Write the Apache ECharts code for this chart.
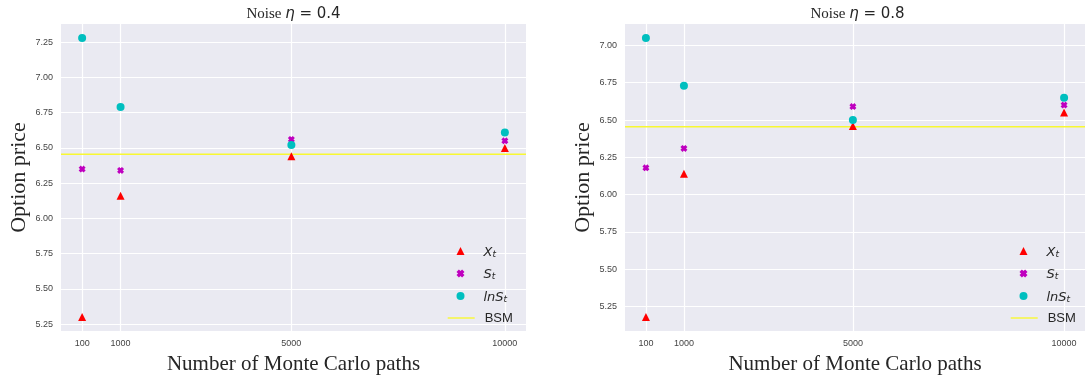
<!DOCTYPE html>
<html>
<head>
<meta charset="utf-8">
<script src="https://cdn.jsdelivr.net/npm/echarts@6/dist/echarts.min.js"></script>
<style>
  html, body { margin: 0; padding: 0; background: #ffffff; }
  #chart { width: 1085px; height: 380px; }
</style>
</head>
<body>
<div id="chart"></div>
<script>
// Number of Monte Carlo paths (x positions)
const paths = [100, 1000, 5000, 10000];
const xTickLabels = ['100', '1000', '5000', '10000'];
const yTickValues = [5.25, 5.50, 5.75, 6.00, 6.25, 6.50, 6.75, 7.00, 7.25];

// Option prices, noise eta = 0.4
const xt04 = [5.30, 6.16, 6.44, 6.50];
const st04 = [6.35, 6.34, 6.56, 6.55];
const lnst04 = [7.28, 6.79, 6.52, 6.61];

// Option prices, noise eta = 0.8
const xt08 = [5.18, 6.14, 6.46, 6.55];
const st08 = [6.18, 6.31, 6.59, 6.60];
const lnst08 = [7.05, 6.73, 6.50, 6.65];

// Black-Scholes-Merton reference price
const bsmPrice = 6.455;

const panelTitles = ['0.4', '0.8'];

// axis limits with a 5% margin around the data
function padded(vals) {
  const lo = Math.min(...vals), hi = Math.max(...vals);
  const m = (hi - lo) * 0.05;
  return [lo - m, hi + m];
}
const xLim = padded(paths);
const yLim04 = padded(xt04.concat(st04, lnst04, [bsmPrice]));
const yLim08 = padded(xt08.concat(st08, lnst08, [bsmPrice]));

const pts = (ys) => paths.map((x, i) => [x, ys[i]]);

// filled "X" marker
const crossPath = 'path://M0,3 L3,0 L5,2 L7,0 L10,3 L8,5 L10,7 L7,10 L5,8 L3,10 L0,7 L2,5 Z';
const colors = { xt: '#ff0000', st: '#bf00bf', lnst: '#00bfbf', bsm: '#f8f832' };
const ink = '#262626';

const gridBase = { top: 24, width: 465, height: 312, show: true,
  backgroundColor: '#eaeaf2', borderWidth: 0, containLabel: false };

function xAxisFor(gi) {
  return {
    type: 'value', gridIndex: gi, min: xLim[0], max: xLim[1],
    axisLine: { show: false }, axisTick: { show: false, customValues: paths },
    axisLabel: { customValues: paths, margin: 8, fontSize: 9, color: '#444',
      fontFamily: 'Liberation Sans, Arial, sans-serif',
      formatter: (v) => xTickLabels[paths.indexOf(v)] ?? '' },
    splitLine: { show: true, lineStyle: { color: '#ffffff', width: 1.2 } },
    name: 'Number of Monte Carlo paths', nameLocation: 'middle', nameGap: 23,
    nameTextStyle: { fontFamily: 'Liberation Serif, Times New Roman, serif', fontSize: 21, color: ink }
  };
}
function yAxisFor(gi, lim) {
  return {
    type: 'value', gridIndex: gi, min: lim[0], max: lim[1],
    axisLine: { show: false }, axisTick: { show: false, customValues: yTickValues },
    axisLabel: { customValues: yTickValues, margin: 8, fontSize: 9, color: '#444',
      fontFamily: 'Liberation Sans, Arial, sans-serif', formatter: (v) => v.toFixed(2) },
    splitLine: { show: true, lineStyle: { color: '#ffffff', width: 1.2 } },
    name: 'Option price', nameLocation: 'middle', nameGap: 31, nameRotate: 90,
    nameTextStyle: { fontFamily: 'Liberation Serif, Times New Roman, serif', fontSize: 22, color: ink }
  };
}

function panelSeries(gi, xt, st, lnst) {
  const common = { type: 'scatter', xAxisIndex: gi, yAxisIndex: gi,
    emphasis: { disabled: true } };
  return [
    { type: 'line', name: 'BSM', xAxisIndex: gi, yAxisIndex: gi,
      data: [[xLim[0], bsmPrice], [xLim[1], bsmPrice]],
      symbol: 'none', lineStyle: { color: colors.bsm, width: 1.4 }, itemStyle: { color: colors.bsm }, z: 1 },
    Object.assign({ name: 'X_t', symbol: 'triangle', symbolSize: 8, data: pts(xt),
      itemStyle: { color: colors.xt, opacity: 1 }, z: 2 }, common),
    Object.assign({ name: 'S_t', symbol: crossPath, symbolSize: 7, data: pts(st),
      itemStyle: { color: colors.st, opacity: 1 }, z: 3 }, common),
    Object.assign({ name: 'lnS_t', symbol: 'circle', symbolSize: 8, data: pts(lnst),
      itemStyle: { color: colors.lnst, opacity: 1 }, z: 4 }, common)
  ];
}

const legendLabels = {
  'X_t': '{i|X}{s|t}',
  'S_t': '{i|S}{s|t}',
  'lnS_t': '{i|lnS}{s|t}',
  'BSM': '{n|BSM}'
};
const legendRich = {
  i: { fontFamily: 'DejaVu Sans', fontStyle: 'italic', fontSize: 13, lineHeight: 16, verticalAlign: 'bottom', color: ink },
  s: { fontFamily: 'DejaVu Sans', fontStyle: 'italic', fontSize: 9, lineHeight: 6, verticalAlign: 'bottom', color: ink },
  n: { fontFamily: 'Liberation Sans, Arial, sans-serif', fontSize: 13, lineHeight: 16, color: ink }
};
// marker entries (small square icon cell) and the BSM line entry (wide cell)
function markerLegend(lineLeft) {
  return {
    orient: 'vertical', left: lineLeft + 9.5, top: 246, padding: 0,
    itemWidth: 8, itemHeight: 8, itemGap: 9.5,
    data: ['X_t', 'S_t', 'lnS_t'], selectedMode: false,
    formatter: (name) => legendLabels[name],
    itemStyle: { opacity: 1 },
    textStyle: { color: ink, padding: [0, 0, 0, 14], rich: legendRich }
  };
}
function lineLegend(lineLeft) {
  return {
    orient: 'vertical', left: lineLeft, top: 311.5, padding: 0,
    itemWidth: 27, itemHeight: 8, itemGap: 0,
    data: ['BSM'], selectedMode: false,
    formatter: (name) => legendLabels[name],
    itemStyle: { opacity: 0 },
    lineStyle: { width: 1.4 },
    textStyle: { color: ink, padding: [0, 0, 0, 5], rich: legendRich }
  };
}

function titleAt(cx, eta) {
  const base = { fontSize: 15, fontWeight: 'normal', color: ink };
  return {
    text: '{a|Noise }{b|η}{c| = ' + eta + '}',
    left: cx, top: 7, textAlign: 'center', padding: 0,
    textStyle: {
      fontWeight: 'normal',
      rich: {
        a: Object.assign({ fontFamily: 'Liberation Serif, Times New Roman, serif' }, base),
        b: Object.assign({ fontFamily: 'DejaVu Sans', fontStyle: 'italic' }, base),
        c: Object.assign({ fontFamily: 'DejaVu Sans' }, base)
      }
    }
  };
}

const chart = echarts.init(document.getElementById('chart'), null, { renderer: 'canvas' });
chart.setOption({
  animation: false,
  backgroundColor: '#ffffff',
  title: [titleAt(293.5, panelTitles[0]), titleAt(857.5, panelTitles[1])],
  legend: [markerLegend(447), lineLegend(447), markerLegend(1010), lineLegend(1010)],
  grid: [Object.assign({ left: 61 }, gridBase), Object.assign({ left: 625 }, gridBase)],
  xAxis: [xAxisFor(0), xAxisFor(1)],
  yAxis: [yAxisFor(0, yLim04), yAxisFor(1, yLim08)],
  series: panelSeries(0, xt04, st04, lnst04).concat(panelSeries(1, xt08, st08, lnst08))
});
</script>
</body>
</html>
